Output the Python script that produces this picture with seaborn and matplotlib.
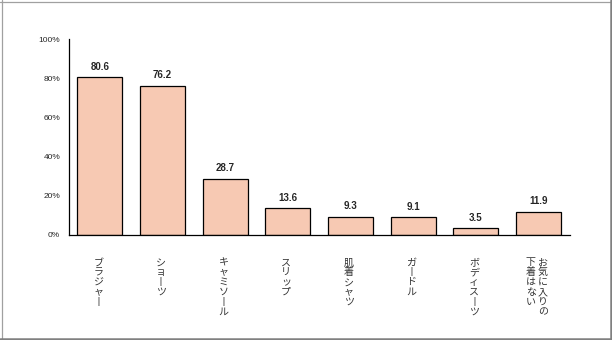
import matplotlib
matplotlib.use("Agg")
import matplotlib.pyplot as plt
import matplotlib.transforms as mtransforms
from matplotlib.lines import Line2D
import seaborn as sns
import pandas as pd

categories = ["ブラジャー", "ショーツ", "キャミソール", "スリップ", "肌着シャツ",
              "ガードル", "ボディスーツ", "お気に入りの下着はない"]
label_columns = [["ブラジャー"], ["ショーツ"], ["キャミソール"], ["スリップ"], ["肌着シャツ"],
                 ["ガードル"], ["ボディスーツ"], ["お気に入りの", "下着はない"]]
values = [80.6, 76.2, 28.7, 13.6, 9.3, 9.1, 3.5, 11.9]
yticks = [0, 20, 40, 60, 80, 100]
ytick_labels = ["0%", "20%", "40%", "60%", "80%", "100%"]

sns.set_theme(style="white")
plt.rcParams['font.family'] = ['Noto Sans CJK JP', 'DejaVu Sans']

fig = plt.figure(figsize=(6.12, 3.4), dpi=100)
ax = fig.add_axes([0.112, 0.309, 0.819, 0.576])

df = pd.DataFrame({"cat": categories, "val": values})
sns.barplot(data=df, x="cat", y="val", ax=ax, color="#F7C9B3", saturation=1,
            width=0.72, edgecolor="black", linewidth=0.9)

ax.set_xlim(-0.5, len(categories) - 0.5)
ax.set_ylim(0, 100)
ax.set_xlabel("")
ax.set_ylabel("")
ax.set_yticks(yticks)
ax.set_yticklabels(ytick_labels, fontsize=6, family=['Liberation Sans'])
ax.tick_params(axis='y', direction='out', length=4, width=0.8, color='black', pad=2)
ax.set_xticks([i + 0.5 for i in range(len(categories))])
ax.set_xticklabels([])
ax.tick_params(axis='x', direction='in', length=3, width=0.8, color='black')
for s in ["top", "right"]:
    ax.spines[s].set_visible(False)
for s in ["left", "bottom"]:
    ax.spines[s].set_color("black")
    ax.spines[s].set_linewidth(0.9)

for i, v in enumerate(values):
    ax.annotate(f"{v:.1f}", (i, v), xytext=(0, 4), textcoords="offset points",
                ha="center", va="bottom", fontsize=7, fontweight="bold",
                family=['Liberation Sans'])

# vertical Japanese labels, drawn one character at a time
trans = mtransforms.blended_transform_factory(ax.transData, fig.transFigure)
step_pt = 7.1
col_gap_pt = 8.6
top_y = 1 - 262.5 / 340
for i, cols in enumerate(label_columns):
    n = len(cols)
    for j, col in enumerate(cols):
        dx = ((n - 1) / 2 - j) * col_gap_pt - 1.2
        for k, c in enumerate(col):
            ch = "丨" if c == "ー" else c
            ax.annotate(ch, (i, top_y), xycoords=trans,
                        xytext=(dx, -k * step_pt), textcoords="offset points",
                        ha="center", va="center", fontsize=7.2,
                        color="#333333")

# figure frame: thin light top/left, thicker darker right/bottom
W, H = 612.0, 340.0
fig.add_artist(Line2D([1.5 / W, 1.5 / W], [0, 1], transform=fig.transFigure,
                      color="#a0a0a0", linewidth=0.9))
fig.add_artist(Line2D([0, 1], [1 - 1.5 / H, 1 - 1.5 / H], transform=fig.transFigure,
                      color="#a0a0a0", linewidth=0.9))
fig.add_artist(Line2D([1 - 1.2 / W, 1 - 1.2 / W], [0, 1], transform=fig.transFigure,
                      color="#808080", linewidth=1.8))
fig.add_artist(Line2D([0, 1], [1.2 / H, 1.2 / H], transform=fig.transFigure,
                      color="#808080", linewidth=1.8))

fig.savefig("out.png", dpi=100)
